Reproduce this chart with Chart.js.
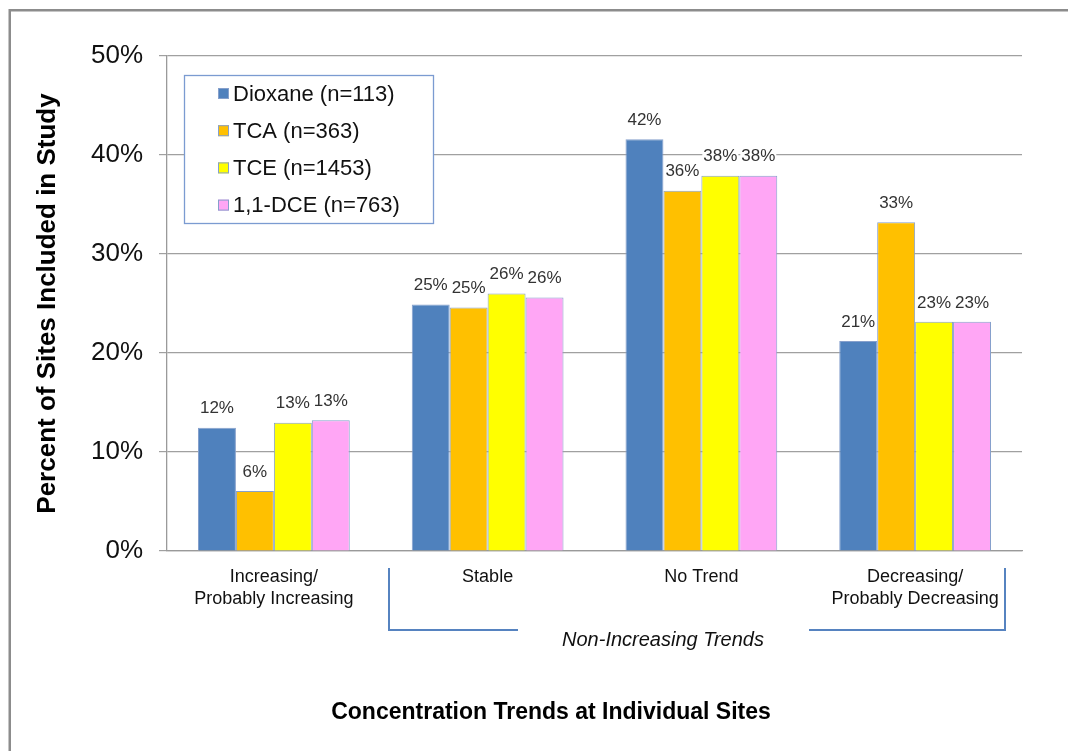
<!DOCTYPE html>
<html><head><meta charset="utf-8">
<script src="https://cdn.jsdelivr.net/npm/chart.js@4.4.0/dist/chart.umd.min.js"></script>
<style>html,body{margin:0;padding:0;background:#fff;overflow:hidden}#wrap{position:relative;width:1068px;height:751px}</style>
</head><body><div id="wrap"><canvas id="c"></canvas></div>
<script>
const categories = [['Increasing/', 'Probably Increasing'], 'Stable', 'No Trend', ['Decreasing/', 'Probably Decreasing']];
const seriesNames = ['Dioxane (n=113)', 'TCA (n=363)', 'TCE (n=1453)', '1,1-DCE (n=763)'];
const dioxane = [12.45, 24.9, 41.6, 21.2];
const tca = [6.06, 24.6, 36.4, 33.2];
const tce = [12.96, 26.0, 37.9, 23.15];
const dce = [13.2, 25.6, 37.9, 23.15];
const yTickValues = [0, 10, 20, 30, 40, 50];
const xTitle = 'Concentration Trends at Individual Sites';
const yTitle = 'Percent of Sites Included in Study';
const groupNote = 'Non-Increasing Trends';

const FONT = '"Liberation Sans", Arial, sans-serif';
const colors = ['#4f81bd', '#ffc000', '#ffff00', '#ffa6f5'];
const edge = '#86a0cc';
const seriesData = [dioxane, tca, tce, dce];

const valueLabels = {
  id: 'valueLabels',
  afterDatasetsDraw(chart) {
    const ctx = chart.ctx;
    ctx.save();
    ctx.font = '17px ' + FONT;
    ctx.textAlign = 'center';
    ctx.textBaseline = 'middle';
    chart.data.datasets.forEach((ds, i) => {
      const meta = chart.getDatasetMeta(i);
      meta.data.forEach((bar, j) => {
        const txt = Math.round(ds.data[j]) + '%';
        const w = ctx.measureText(txt).width;
        const cx = bar.x, cy = bar.y - 20;
        ctx.fillStyle = '#fff';
        ctx.fillRect(cx - w / 2 - 1, cy - 12, w + 2, 24);
        ctx.fillStyle = '#333';
        ctx.fillText(txt, cx, cy + 1);
      });
    });
    ctx.restore();
  }
};

const boxLegend = {
  id: 'boxLegend',
  afterDraw(chart) {
    const ctx = chart.ctx, a = chart.chartArea;
    const x0 = a.left + 17, y0 = a.top + 19, w = 249, h = 148;
    ctx.save();
    ctx.fillStyle = '#fff';
    ctx.fillRect(x0, y0, w, h);
    ctx.strokeStyle = '#7b9bd1';
    ctx.lineWidth = 1.3;
    ctx.strokeRect(x0 + 0.5, y0 + 0.5, w, h);
    ctx.font = '22px ' + FONT;
    ctx.textBaseline = 'middle';
    ctx.textAlign = 'left';
    chart.data.datasets.forEach((ds, i) => {
      const cy = y0 + 18.5 + i * 37.2;
      ctx.fillStyle = ds.backgroundColor;
      ctx.fillRect(x0 + 34, cy - 5.5, 11, 11);
      ctx.strokeStyle = ds.borderColor;
      ctx.lineWidth = 1;
      ctx.strokeRect(x0 + 34.5, cy - 5, 10, 10);
      ctx.fillStyle = '#111';
      ctx.fillText(ds.label, x0 + 49, cy + 1);
    });
    ctx.restore();
  }
};

const extras = {
  id: 'extras',
  afterDraw(chart) {
    const ctx = chart.ctx;
    ctx.save();
    ctx.strokeStyle = '#8c8c8c';
    ctx.lineWidth = 2.5;
    ctx.beginPath();
    ctx.moveTo(9.75, 760); ctx.lineTo(9.75, 10.25); ctx.lineTo(1080, 10.25);
    ctx.stroke();
    ctx.strokeStyle = '#5683c0';
    ctx.lineWidth = 2;
    ctx.beginPath();
    ctx.moveTo(389, 568); ctx.lineTo(389, 630); ctx.lineTo(518, 630);
    ctx.moveTo(809, 630); ctx.lineTo(1005, 630); ctx.lineTo(1005, 568);
    ctx.stroke();
    ctx.fillStyle = '#111';
    ctx.textAlign = 'center';
    ctx.textBaseline = 'middle';
    ctx.font = 'italic 20px ' + FONT;
    ctx.fillText(groupNote, 663, 640);
    ctx.font = 'bold 23px ' + FONT;
    ctx.fillStyle = '#000';
    ctx.fillText(xTitle, 551, 713);
    ctx.restore();
  }
};

new Chart(document.getElementById('c'), {
  type: 'bar',
  data: {
    labels: categories,
    datasets: seriesNames.map((n, i) => ({
      label: n,
      data: seriesData[i],
      backgroundColor: colors[i],
      borderColor: edge,
      borderWidth: 1,
      categoryPercentage: 0.71,
      barPercentage: 1.0
    }))
  },
  options: {
    responsive: true,
    maintainAspectRatio: false,
    animation: false,
    layout: { padding: { left: 0, top: 56, right: 46, bottom: 0 } },
    plugins: { legend: { display: false }, tooltip: { enabled: false } },
    scales: {
      x: {
        grid: { display: false, drawTicks: false },
        border: { display: true, color: '#9a9a9a', width: 1.3 },
        ticks: { color: '#111', font: { family: FONT, size: 18, lineHeight: 1.17 }, padding: 16, maxRotation: 0, autoSkip: false },
        afterFit(s) { s.height = 200; }
      },
      y: {
        min: 0, max: 50,
        afterBuildTicks(s) { s.ticks = yTickValues.map(v => ({ value: v })); },
        grid: { color: '#a0a0a0', lineWidth: 1.2, tickLength: 8, drawTicks: true },
        border: { display: true, color: '#9a9a9a', width: 1.3 },
        ticks: { color: '#111', font: { family: FONT, size: 26 }, padding: 16, callback: v => v + '%' },
        title: { display: true, text: yTitle, color: '#000', font: { family: FONT, size: 26, weight: 'bold' }, padding: { top: 32, bottom: 0 } },
        afterFit(s) { s.width = 167; }
      }
    }
  },
  plugins: [valueLabels, boxLegend, extras]
});
</script>
</body></html>
